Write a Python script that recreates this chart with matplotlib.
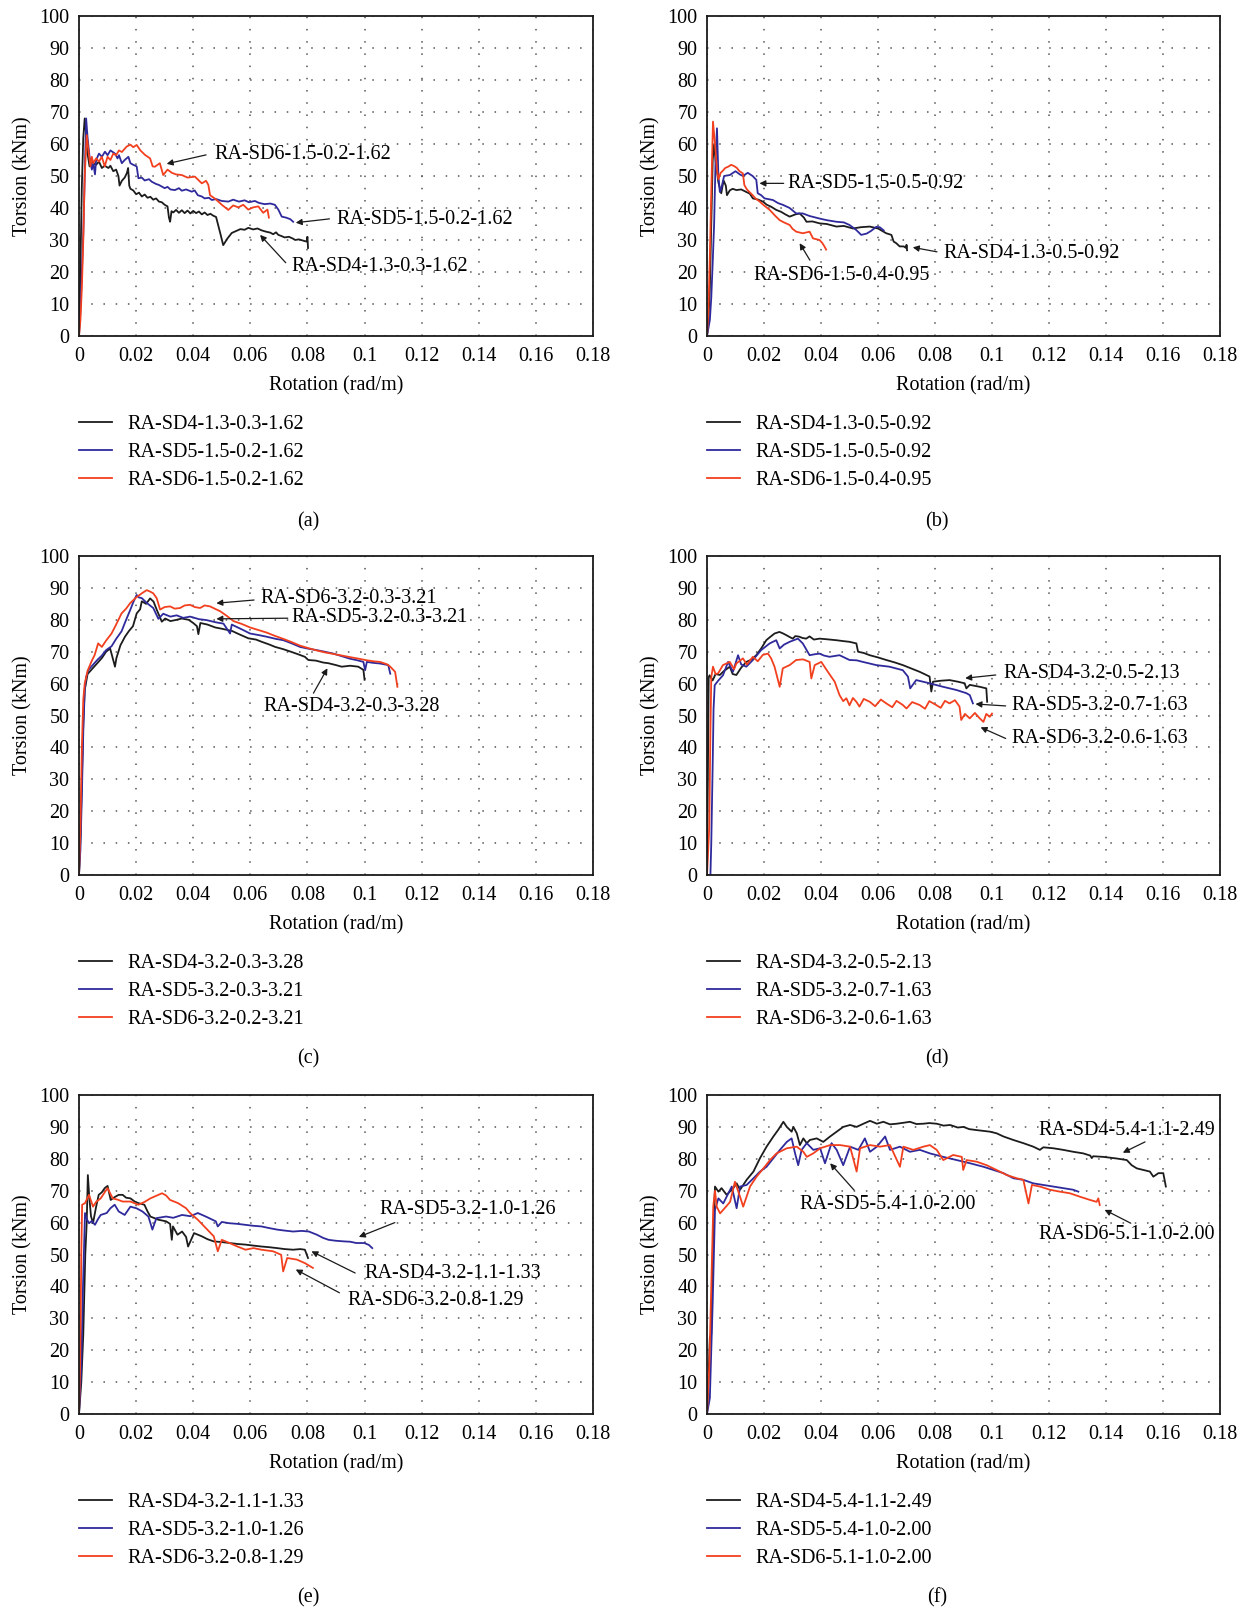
import matplotlib
matplotlib.use("Agg")
import matplotlib.pyplot as plt

plt.rcParams['font.family'] = ['Liberation Serif', 'DejaVu Serif']

# ---------------- data (rotation rad/m, torsion kNm) ----------------
A4 = [(0,0),(0.0005,22),(0.001,47),(0.0015,62),(0.002,68),(0.0025,63),(0.003,57),(0.0037,53),(0.0044,55),(0.005,54),(0.006,53.5),(0.007,54.5),(0.008,52.5),(0.009,53.2),(0.0103,52.5),(0.011,53.2),(0.012,51.5),(0.013,52),(0.0138,50),(0.0142,47),(0.015,48.5),(0.016,49.5),(0.0168,51),(0.0172,52.5),(0.0176,47),(0.018,46),(0.019,45.5),(0.020,44.3),(0.021,44.8),(0.022,43.6),(0.023,44.2),(0.024,43.2),(0.025,43.5),(0.026,42.6),(0.027,43),(0.028,42),(0.029,41.8),(0.030,41),(0.031,40.5),(0.0315,37),(0.0319,35.7),(0.0324,39),(0.033,38.6),(0.034,39.4),(0.035,38.5),(0.036,39.3),(0.037,38.4),(0.038,39.2),(0.039,38.3),(0.040,39.1),(0.041,38.4),(0.042,38.9),(0.043,38),(0.044,38.6),(0.045,37.8),(0.046,38.2),(0.047,37.6),(0.048,37.2),(0.0495,32),(0.0505,28.4),(0.052,30.5),(0.0535,32.2),(0.055,32.8),(0.0565,33.4),(0.058,33.2),(0.0593,33.8),(0.061,33.3),(0.0625,33.6),(0.064,33),(0.0655,32.6),(0.067,32.3),(0.068,31.8),(0.069,32.4),(0.0698,31.6),(0.071,31.2),(0.072,30.8),(0.0735,31),(0.075,30.4),(0.0757,30),(0.077,30.2),(0.0785,29.8),(0.0797,29.5),(0.08,31),(0.0802,27.5)]
A5 = [(0,0),(0.0005,8),(0.001,20),(0.0015,32),(0.002,50),(0.0025,68),(0.003,62),(0.0037,56),(0.0045,52),(0.005,54),(0.0056,50.5),(0.006,55),(0.007,57),(0.008,56),(0.0091,57.6),(0.010,56.5),(0.011,58),(0.0126,57),(0.0135,55.5),(0.014,56.5),(0.015,54),(0.016,55),(0.0173,56),(0.018,54),(0.019,53.5),(0.0202,53),(0.0208,49.3),(0.022,49.5),(0.023,48.6),(0.0245,49),(0.0255,48.2),(0.027,47.5),(0.028,47.2),(0.029,46.7),(0.030,46.2),(0.031,46.6),(0.032,45.8),(0.0336,45.6),(0.035,46.2),(0.036,45.4),(0.0375,45.8),(0.0395,45.1),(0.0405,45.5),(0.0416,44),(0.043,43.6),(0.044,43),(0.0455,43.2),(0.0465,42.5),(0.048,42.8),(0.050,42.2),(0.0523,42),(0.054,42.6),(0.056,42),(0.058,42.4),(0.0595,41.8),(0.0616,42.2),(0.063,41.6),(0.065,41.2),(0.067,41.4),(0.0686,41),(0.0698,39.5),(0.071,37.3),(0.0725,37),(0.074,36.5),(0.075,35.7)]
A6 = [(0,0),(0.0005,5),(0.001,15),(0.0015,30),(0.002,50),(0.0027,62.8),(0.0033,58),(0.004,53),(0.0045,56),(0.005,54),(0.006,55.5),(0.007,54.5),(0.008,56),(0.009,53),(0.010,56),(0.011,55),(0.012,57),(0.013,56.5),(0.014,58),(0.015,57.5),(0.0167,59.2),(0.018,59.8),(0.019,59),(0.0202,59.7),(0.0215,58),(0.0231,56.6),(0.0249,55.5),(0.0258,53),(0.0266,52.9),(0.0283,54),(0.0295,50.3),(0.031,52),(0.0325,51),(0.034,50.5),(0.036,50.3),(0.038,49.5),(0.0406,49.8),(0.043,47.7),(0.0445,48.5),(0.0453,47.2),(0.0459,44),(0.0475,43),(0.0488,42),(0.050,41),(0.0523,39.4),(0.054,40.8),(0.0558,40.2),(0.0575,41),(0.0593,39.5),(0.061,40.2),(0.0628,40.5),(0.0645,38.5),(0.066,39.5),(0.0665,37)]

B4 = [(0,0),(0.0005,5),(0.001,15),(0.0015,35),(0.002,55),(0.0025,60),(0.003,55),(0.004,48),(0.005,44.6),(0.0058,48.6),(0.0066,47),(0.007,44),(0.008,45.5),(0.009,46),(0.0103,45.6),(0.012,45.8),(0.0138,45),(0.015,44.5),(0.0161,43),(0.018,42.6),(0.0196,42),(0.021,41),(0.0225,40.4),(0.0243,39.4),(0.026,38.8),(0.0275,38),(0.029,37.3),(0.031,38),(0.0325,38.3),(0.034,37),(0.0349,35.7),(0.037,35.8),(0.0395,35.2),(0.042,35),(0.0454,34.2),(0.048,34.4),(0.0512,33.6),(0.054,34),(0.0571,34.2),(0.060,33.6),(0.0629,32.1),(0.0647,31.6),(0.0655,29.5),(0.0664,29),(0.0676,28),(0.069,28),(0.0699,27.5),(0.07,28.5),(0.0702,26.8)]
B5 = [(0,0),(0.001,5),(0.0015,12),(0.002,23),(0.0025,35),(0.003,55),(0.0035,64.9),(0.004,50),(0.0045,45),(0.005,46),(0.006,50),(0.008,50.3),(0.010,51.5),(0.0115,50.5),(0.0126,50),(0.0143,51),(0.016,50),(0.0173,48.8),(0.0178,44.6),(0.019,44),(0.0202,43),(0.0231,42.5),(0.025,41.5),(0.0266,41),(0.029,40),(0.0313,38.3),(0.0336,38.3),(0.036,37.5),(0.0395,36.7),(0.042,36.2),(0.0454,35.7),(0.048,35.5),(0.050,34.7),(0.0524,33.1),(0.0541,31.6),(0.056,32),(0.0575,32.8),(0.0594,34.1),(0.0606,34),(0.062,33)]
B6 = [(0,0),(0.0005,8),(0.001,25),(0.0015,45),(0.0021,67),(0.0028,60),(0.0035,52),(0.004,49),(0.0048,51),(0.0054,51.5),(0.0064,52.5),(0.0074,52.9),(0.0085,53.5),(0.0097,53),(0.0105,52.5),(0.0114,51.5),(0.0126,50.8),(0.0131,47.2),(0.014,45.8),(0.0149,45),(0.016,44),(0.017,43),(0.0185,42),(0.020,40.8),(0.022,39.4),(0.024,37.5),(0.0255,36.2),(0.027,35.5),(0.029,34.7),(0.030,33.5),(0.0313,32.6),(0.0336,32.1),(0.036,32.6),(0.0372,30.5),(0.0395,30),(0.0405,29),(0.0412,28),(0.0418,27)]

C4 = [(0,0),(0.0005,12),(0.001,30),(0.0015,48),(0.002,58),(0.003,63),(0.004,64),(0.005,65),(0.0065,66.5),(0.008,68),(0.0095,70),(0.0109,71),(0.0118,68),(0.0126,65.3),(0.0131,68),(0.0145,72),(0.0161,74.7),(0.0175,76.5),(0.0189,78),(0.0202,82),(0.0214,83.3),(0.022,85.8),(0.0235,85),(0.0249,86.7),(0.0261,85.7),(0.0272,83.2),(0.029,79.4),(0.0302,80.4),(0.032,79.6),(0.0337,79.9),(0.036,80.4),(0.0384,80),(0.040,79),(0.0413,78),(0.0418,75.5),(0.0425,79),(0.045,78.5),(0.0477,77.6),(0.050,77.2),(0.0536,76.5),(0.056,75.5),(0.0593,74.2),(0.062,73.8),(0.064,73.1),(0.0665,72.3),(0.0687,71.5),(0.0715,70.8),(0.0745,69.9),(0.077,69.1),(0.0791,68.4),(0.0803,67.4),(0.083,67.2),(0.0855,66.6),(0.0873,66.4),(0.090,65.8),(0.092,65.3),(0.095,65.6),(0.0978,65.3),(0.0996,64.3),(0.1,61.2)]
C5 = [(0,0),(0.0005,8),(0.001,25),(0.0015,45),(0.002,58),(0.0025,62),(0.0033,64.3),(0.005,66),(0.0065,67.5),(0.0079,68.7),(0.0095,70.5),(0.0114,71.7),(0.013,74),(0.0149,76.4),(0.0165,80),(0.0179,83),(0.019,85.5),(0.0202,87.8),(0.021,87),(0.022,86.8),(0.0237,85.3),(0.026,83.7),(0.0278,80.3),(0.0295,81.9),(0.032,81),(0.0342,81.4),(0.0365,80.6),(0.0389,81),(0.042,80.2),(0.0447,79.9),(0.048,79.2),(0.0506,78.8),(0.0529,75.7),(0.0535,78.5),(0.057,77),(0.0599,75.7),(0.063,75.2),(0.0657,74.7),(0.069,74),(0.0716,73.6),(0.0745,72.6),(0.0774,71.5),(0.080,71),(0.0832,70.5),(0.086,70),(0.0891,69.4),(0.092,68.6),(0.0949,67.8),(0.0975,67.3),(0.0996,66.8),(0.1002,64.2),(0.1008,66.8),(0.103,66.5),(0.1054,66.3),(0.1083,65.8),(0.109,63.1)]
C6 = [(0,0),(0.0005,15),(0.001,40),(0.0015,55),(0.002,60),(0.003,64),(0.0044,67),(0.0055,69),(0.0067,72.6),(0.008,71.5),(0.0095,73.5),(0.0114,75.7),(0.013,78.5),(0.0149,82),(0.0165,83.5),(0.0179,85.2),(0.020,87),(0.022,88.3),(0.0237,89.3),(0.025,88.8),(0.026,88.3),(0.0272,86.8),(0.0284,83.2),(0.030,84),(0.0319,84.2),(0.0335,83.5),(0.0354,83.7),(0.037,84.5),(0.0389,84.7),(0.0405,84),(0.0424,83.7),(0.044,84.5),(0.0459,84.2),(0.0475,83.5),(0.0494,82.7),(0.0518,81.2),(0.0541,79.6),(0.057,78.7),(0.0599,77.6),(0.0628,76.8),(0.0657,76),(0.0685,75),(0.0716,74),(0.0745,73),(0.0774,71.9),(0.080,71.2),(0.0832,70.4),(0.086,69.8),(0.0891,69.3),(0.092,68.8),(0.0949,68.3),(0.098,67.8),(0.1008,67.3),(0.103,67),(0.1054,66.8),(0.108,66),(0.109,65.3),(0.1107,63.7),(0.1115,59)]

D4 = [(0,0),(0.0003,30),(0.0006,62),(0.0009,62.6),(0.002,61),(0.003,63),(0.0045,62.7),(0.006,64),(0.008,65.3),(0.009,63),(0.0103,62.7),(0.012,65),(0.0138,66.8),(0.0155,67.5),(0.0173,68.9),(0.019,71),(0.0208,73.6),(0.022,74.5),(0.0237,75.7),(0.0254,76.2),(0.0265,75.8),(0.0278,75.2),(0.029,74.6),(0.0301,74.1),(0.031,74.9),(0.0324,74.7),(0.0335,74.3),(0.0348,74.1),(0.036,74.8),(0.0375,73.8),(0.0395,74.1),(0.042,73.9),(0.0454,73.6),(0.048,73.3),(0.050,73.1),(0.0524,72.6),(0.053,70),(0.055,69.6),(0.0571,68.9),(0.060,68.2),(0.0629,67.4),(0.066,66.6),(0.0687,65.8),(0.0715,64.8),(0.0746,63.7),(0.0765,62.9),(0.0781,62.2),(0.0787,57.5),(0.0793,60.6),(0.082,60.9),(0.0851,61.1),(0.088,60.6),(0.0904,60.1),(0.091,58.5),(0.0922,59.6),(0.0957,59),(0.098,58.5),(0.0983,54.3)]
D5 = [(0,0),(0.0012,0),(0.0015,10),(0.002,35),(0.0023,52),(0.0027,59.5),(0.004,61),(0.0056,62.6),(0.0074,66.8),(0.0091,63.7),(0.0109,68.9),(0.012,66),(0.0138,65.3),(0.0161,67.4),(0.019,70.5),(0.022,72.6),(0.0243,73.6),(0.0255,71),(0.027,72.2),(0.029,73.1),(0.0319,74.1),(0.0336,72.6),(0.036,68.9),(0.0378,69.2),(0.0395,69.4),(0.041,68.8),(0.043,68.4),(0.0465,68.9),(0.05,67.4),(0.0525,67.3),(0.0547,66.8),(0.0594,65.8),(0.064,65.3),(0.0687,64.2),(0.0705,62.2),(0.0713,58.5),(0.0734,61.1),(0.0781,60.1),(0.0828,59),(0.0875,58),(0.091,57),(0.0922,56.4),(0.0933,53.8)]
D6 = [(0,0),(0.0008,15),(0.0012,45),(0.0015,62),(0.0021,65.3),(0.003,63),(0.0039,63.2),(0.0056,65.8),(0.008,66.8),(0.0095,64.5),(0.0103,66.3),(0.0126,67.9),(0.014,66),(0.0161,68.4),(0.0178,67),(0.0196,69),(0.0214,69.4),(0.0225,67.9),(0.0237,65.3),(0.0249,61.1),(0.0255,59),(0.0266,64.8),(0.029,65.8),(0.0313,67.4),(0.0337,67.6),(0.036,66.8),(0.0366,61.6),(0.0378,65.8),(0.0401,66.8),(0.0424,63.7),(0.0448,60.6),(0.0465,56.4),(0.0478,54.5),(0.0489,55.4),(0.050,53.2),(0.0512,55.5),(0.0524,54.3),(0.0535,52.8),(0.055,55.2),(0.0571,54.3),(0.059,52.9),(0.061,55),(0.0629,53.8),(0.065,52.6),(0.0665,54.6),(0.0687,53.3),(0.070,52.2),(0.072,54.2),(0.0746,53.3),(0.0765,52.1),(0.078,54.5),(0.0804,53.3),(0.082,52.4),(0.0835,54.6),(0.0851,53.8),(0.087,54.8),(0.0886,52.8),(0.0892,48.6),(0.0905,50.5),(0.0922,49.1),(0.094,50.8),(0.0957,49.1),(0.097,48),(0.098,50.5),(0.0992,49.6),(0.100,50.6)]

E4 = [(0,0),(0.0008,10),(0.0015,25),(0.0022,50),(0.0027,60),(0.0031,74.9),(0.0036,68),(0.0042,62),(0.0049,59.8),(0.006,65),(0.0069,68.7),(0.008,69.5),(0.009,70.8),(0.010,71.5),(0.0111,67.1),(0.0125,68),(0.0139,68.7),(0.0153,68.7),(0.0165,67.8),(0.018,67.6),(0.0195,66.6),(0.0208,66.1),(0.0229,65.6),(0.024,63.5),(0.025,61.9),(0.0278,60.9),(0.0305,60.4),(0.0319,59.6),(0.0325,54.6),(0.0329,58.8),(0.0345,56.2),(0.0361,57.2),(0.0375,55.5),(0.0382,52.5),(0.0403,56.7),(0.043,55.7),(0.045,54.8),(0.0472,54.1),(0.050,53.9),(0.0527,53.6),(0.0555,53.3),(0.0583,53.1),(0.061,52.8),(0.0639,52.5),(0.0665,52.3),(0.0694,52),(0.072,51.7),(0.075,51.5),(0.0775,51.7),(0.0791,51.5),(0.0802,48.9)]
E5 = [(0,0),(0.0008,15),(0.0014,40),(0.0021,63),(0.0028,61),(0.0035,59.8),(0.0045,60.5),(0.0056,59.3),(0.0066,61),(0.0076,62.4),(0.0097,63),(0.011,64.5),(0.0125,65.6),(0.0139,63.5),(0.016,62.4),(0.018,65),(0.0201,64.5),(0.0222,63.5),(0.0243,61.9),(0.0257,57.8),(0.0271,61.4),(0.0305,61.9),(0.033,61.5),(0.0361,62.4),(0.039,62),(0.0416,63),(0.0444,61.9),(0.0479,60.4),(0.0486,58.8),(0.050,60.2),(0.0527,59.8),(0.0555,59.6),(0.0583,59.3),(0.061,59),(0.0639,58.8),(0.0665,58.3),(0.0694,57.8),(0.072,57.5),(0.075,57.2),(0.078,57.4),(0.0805,57.2),(0.0833,56.2),(0.0855,55.2),(0.0874,54.6),(0.090,54.3),(0.093,54.1),(0.095,54),(0.0971,53.6),(0.0999,53.6),(0.1015,53),(0.1027,52)]
E6 = [(0,0),(0.0004,15),(0.0008,50),(0.0011,65.6),(0.0021,66.1),(0.0035,68.7),(0.0049,65),(0.006,66.5),(0.0076,67.6),(0.009,69.5),(0.01,70.8),(0.0118,67.6),(0.0135,67.2),(0.0153,66.6),(0.018,66.6),(0.0208,65.6),(0.023,66.5),(0.025,67.6),(0.0278,68.7),(0.0291,69.2),(0.0305,68.5),(0.0319,67.1),(0.0347,66.1),(0.0375,64.5),(0.0389,63),(0.0416,60.9),(0.0444,58.3),(0.0472,55.7),(0.0486,51),(0.05,54.6),(0.0527,53.6),(0.0555,52.5),(0.0583,51.5),(0.0611,52),(0.0639,51.5),(0.068,51),(0.0708,49.9),(0.0715,44.7),(0.0729,48.9),(0.0763,48.4),(0.0791,47.3),(0.0819,45.8)]

F4 = [(0,0),(0.0005,10),(0.001,24),(0.0015,25),(0.002,50),(0.0028,71.3),(0.004,69.7),(0.0051,70.8),(0.0069,68.7),(0.0092,70.8),(0.0104,72.3),(0.0116,70.3),(0.0139,73.4),(0.0163,76),(0.0186,80.2),(0.0209,83.8),(0.0233,87),(0.025,89.1),(0.0268,91.6),(0.028,90),(0.0297,88.5),(0.0303,90),(0.0315,88),(0.0326,84.3),(0.0338,86.4),(0.035,84.9),(0.0361,85.9),(0.0385,86.4),(0.0408,85.3),(0.0432,87),(0.0455,88.5),(0.0478,90),(0.0502,90.6),(0.0525,90),(0.0549,91),(0.0572,91.9),(0.0596,91),(0.0619,91.6),(0.0642,90.8),(0.0666,91),(0.069,91.3),(0.0712,91.6),(0.0735,90.9),(0.0759,91),(0.078,91.2),(0.0806,91),(0.083,90.4),(0.0853,90.6),(0.088,89.8),(0.09,90),(0.092,89.3),(0.0946,89),(0.0993,88.5),(0.1016,88),(0.104,87),(0.1075,85.9),(0.111,84.9),(0.1145,83.8),(0.1168,82.8),(0.118,83.6),(0.1215,83.3),(0.125,82.8),(0.1285,82.2),(0.132,81.7),(0.1345,81),(0.135,80.2),(0.1355,80.8),(0.1391,80.6),(0.1437,80.1),(0.1473,79.6),(0.149,78),(0.1508,77),(0.1531,76.5),(0.1554,76),(0.1566,74.4),(0.1584,75.5),(0.1601,75.5),(0.161,71.3)]
F5 = [(0,0),(0.001,5),(0.0015,20),(0.002,35),(0.0028,64),(0.004,67.6),(0.0057,66),(0.0075,69.2),(0.0087,71.3),(0.0104,64.5),(0.0116,71.3),(0.0139,71.8),(0.0163,73.9),(0.0186,76),(0.0209,77.5),(0.0233,80.2),(0.0256,82.8),(0.028,85.3),(0.0297,86.4),(0.0309,81.7),(0.032,78),(0.0332,82.8),(0.035,84.9),(0.0373,82.8),(0.0397,83.3),(0.0414,78.6),(0.0437,84.9),(0.0455,82.8),(0.0478,78),(0.0502,83.8),(0.0531,82.8),(0.0554,86.4),(0.0572,82.2),(0.0596,83.8),(0.0625,87),(0.0642,82.8),(0.0677,83.8),(0.0712,82.2),(0.0747,82.8),(0.0782,81.7),(0.0829,80.6),(0.0876,79.6),(0.0923,78.6),(0.097,77.5),(0.1005,76.5),(0.104,75.5),(0.1075,73.9),(0.111,73.4),(0.1145,72.3),(0.118,71.8),(0.1215,71.3),(0.125,70.8),(0.1285,70.3),(0.1303,69.7)]
F6 = [(0,0),(0.0008,15),(0.0015,40),(0.0022,65),(0.0028,70),(0.0034,65),(0.0046,62.9),(0.0057,64),(0.0081,66.5),(0.0098,72.8),(0.0116,68.1),(0.0127,65),(0.0151,71.3),(0.0174,74.4),(0.0198,77),(0.0221,79.6),(0.0244,81.7),(0.028,83.3),(0.0315,83.8),(0.0338,82.2),(0.035,80.6),(0.0373,81.7),(0.0397,83.3),(0.0432,84.3),(0.0467,84.3),(0.0502,83.8),(0.0525,76),(0.0537,83.3),(0.0572,84.3),(0.0607,83.8),(0.0642,84.3),(0.0677,77.5),(0.0689,83.8),(0.0724,82.8),(0.0759,83.8),(0.0782,84.3),(0.0806,82.8),(0.0829,79.6),(0.0864,81.2),(0.0894,80.6),(0.0899,76.5),(0.0911,79.6),(0.0946,79.1),(0.0981,78),(0.1016,76.5),(0.1052,74.9),(0.1087,73.9),(0.111,73.4),(0.1128,66),(0.114,71.8),(0.1168,71.3),(0.1203,70.3),(0.1238,69.7),(0.1273,69.2),(0.1309,68.1),(0.1344,67.1),(0.1367,66.5),(0.1373,67.6),(0.1378,65.5)]

NAMES = {
    'a': ["RA-SD4-1.3-0.3-1.62", "RA-SD5-1.5-0.2-1.62", "RA-SD6-1.5-0.2-1.62"],
    'b': ["RA-SD4-1.3-0.5-0.92", "RA-SD5-1.5-0.5-0.92", "RA-SD6-1.5-0.4-0.95"],
    'c': ["RA-SD4-3.2-0.3-3.28", "RA-SD5-3.2-0.3-3.21", "RA-SD6-3.2-0.2-3.21"],
    'd': ["RA-SD4-3.2-0.5-2.13", "RA-SD5-3.2-0.7-1.63", "RA-SD6-3.2-0.6-1.63"],
    'e': ["RA-SD4-3.2-1.1-1.33", "RA-SD5-3.2-1.0-1.26", "RA-SD6-3.2-0.8-1.29"],
    'f': ["RA-SD4-5.4-1.1-2.49", "RA-SD5-5.4-1.0-2.00", "RA-SD6-5.1-1.0-2.00"],
}
SERIES = {'a': [A4, A5, A6], 'b': [B4, B5, B6], 'c': [C4, C5, C6],
          'd': [D4, D5, D6], 'e': [E4, E5, E6], 'f': [F4, F5, F6]}

# annotations: (text, text_xy, arrow_tail_xy, arrow_head_xy)
ANN = {
    'a': [("RA-SD6-1.5-0.2-1.62", (0.0473, 56.6), (0.0445, 56.6), (0.0307, 53.8)),
          ("RA-SD5-1.5-0.2-1.62", (0.0903, 36.5), (0.0877, 36.6), (0.0759, 35.4)),
          ("RA-SD4-1.3-0.3-1.62", (0.0745, 21.7), (0.0724, 22.9), (0.0634, 31.6))],
    'b': [("RA-SD5-1.5-0.5-0.92", (0.0283, 47.7), (0.0269, 47.7), (0.0184, 47.7)),
          ("RA-SD4-1.3-0.5-0.92", (0.0828, 25.8), (0.0807, 26.3), (0.0722, 27.7)),
          ("RA-SD6-1.5-0.4-0.95", (0.0162, 18.8), (0.0361, 23.7), (0.0325, 29.0))],
    'c': [("RA-SD6-3.2-0.3-3.21", (0.0634, 86.7), (0.0613, 86.2), (0.0481, 85.2)),
          ("RA-SD5-3.2-0.3-3.21", (0.0745, 80.8), (0.0731, 80.5), (0.0481, 80.3)),
          ("RA-SD4-3.2-0.3-3.28", (0.0647, 52.8), (0.0821, 57.0), (0.0870, 64.8))],
    'd': [("RA-SD4-3.2-0.5-2.13", (0.1041, 63.2), (0.1013, 62.7), (0.0906, 61.7)),
          ("RA-SD5-3.2-0.7-1.63", (0.1069, 53.1), (0.1048, 53.0), (0.0942, 53.6)),
          ("RA-SD6-3.2-0.6-1.63", (0.1069, 42.8), (0.1048, 42.8), (0.0960, 46.3))],
    'e': [("RA-SD5-3.2-1.0-1.26", (0.1051, 64.0), (0.1106, 60.0), (0.0980, 55.5)),
          ("RA-SD4-3.2-1.1-1.33", (0.0998, 44.2), (0.0967, 44.2), (0.0814, 51.0)),
          ("RA-SD6-3.2-0.8-1.29", (0.0939, 35.7), (0.0912, 38.0), (0.0759, 45.3))],
    'f': [("RA-SD4-5.4-1.1-2.49", (0.1163, 89.0), (0.1537, 85.3), (0.1459, 81.9)),
          ("RA-SD5-5.4-1.0-2.00", (0.0325, 65.6), (0.0516, 70.2), (0.0432, 78.6)),
          ("RA-SD6-5.1-1.0-2.00", (0.1163, 56.2), (0.1487, 59.8), (0.1395, 64.0))],
}

X_TICKS = [0, 0.02, 0.04, 0.06, 0.08, 0.1, 0.12, 0.14, 0.16, 0.18]
X_TICKLABELS = ["0", "0.02", "0.04", "0.06", "0.08", "0.1", "0.12", "0.14", "0.16", "0.18"]
Y_TICKS = list(range(0, 101, 10))

COLORS = ['#1c1c1c', '#2f2a9c', '#f2401f']
FS = 14.5

W, H = 1250, 1611
fig = plt.figure(figsize=(W / 100, H / 100), dpi=100)

# pixel layout of panels (left, right, top, bottom)
cols = [(79, 593), (707, 1220)]
rows = [(16, 336), (556, 875), (1095, 1414)]
label_pos = {'a': (308, 522), 'b': (937, 522), 'c': (308, 1059), 'd': (937, 1059),
             'e': (308, 1598), 'f': (937, 1598)}

keys = ['a', 'b', 'c', 'd', 'e', 'f']
for i, k in enumerate(keys):
    l, r = cols[i % 2]
    t, b = rows[i // 2]
    ax = fig.add_axes([l / W, 1 - b / H, (r - l) / W, (b - t) / H])
    for s, name, c in zip(SERIES[k], NAMES[k], COLORS):
        xs = [p[0] for p in s]
        ys = [p[1] for p in s]
        ax.plot(xs, ys, color=c, lw=1.3, label=name)
    ax.set_xlim(0, 0.18)
    ax.set_ylim(0, 100)
    ax.set_xticks(X_TICKS)
    ax.set_xticklabels(X_TICKLABELS)
    ax.set_yticks(Y_TICKS)
    ax.tick_params(length=0, labelsize=FS, pad=8)
    ax.tick_params(axis='y', pad=7)
    ax.grid(True, color='#555555', lw=1.1, linestyle=(0, (1, 7)))
    for sp in ax.spines.values():
        sp.set_linewidth(1.3)
        sp.set_color('#1a1a1a')
    ax.set_xlabel("Rotation (rad/m)", fontsize=FS)
    ax.set_ylabel("Torsion (kNm)", fontsize=FS)
    ax.xaxis.set_label_coords(0.5, -0.125)
    ax.yaxis.set_label_coords(-0.091, 0.5)
    for txt, txy, tail, head in ANN[k]:
        ax.text(txy[0], txy[1], txt, fontsize=FS, ha='left', va='center')
        ax.annotate("", xy=head, xytext=tail,
                    arrowprops=dict(arrowstyle='-|>', color='#1a1a1a', lw=0.9,
                                    mutation_scale=9, shrinkA=0, shrinkB=0))
    ax.legend(loc='upper left', bbox_to_anchor=(0.0, -0.248), frameon=False,
              fontsize=FS, handlelength=1.65, handletextpad=0.75,
              borderpad=0, borderaxespad=0, labelspacing=0.43)
    lx, ly = label_pos[k]
    fig.text(lx / W, 1 - ly / H, f"({k})", fontsize=FS, ha='center', va='center')

fig.savefig("out.png", dpi=100)
